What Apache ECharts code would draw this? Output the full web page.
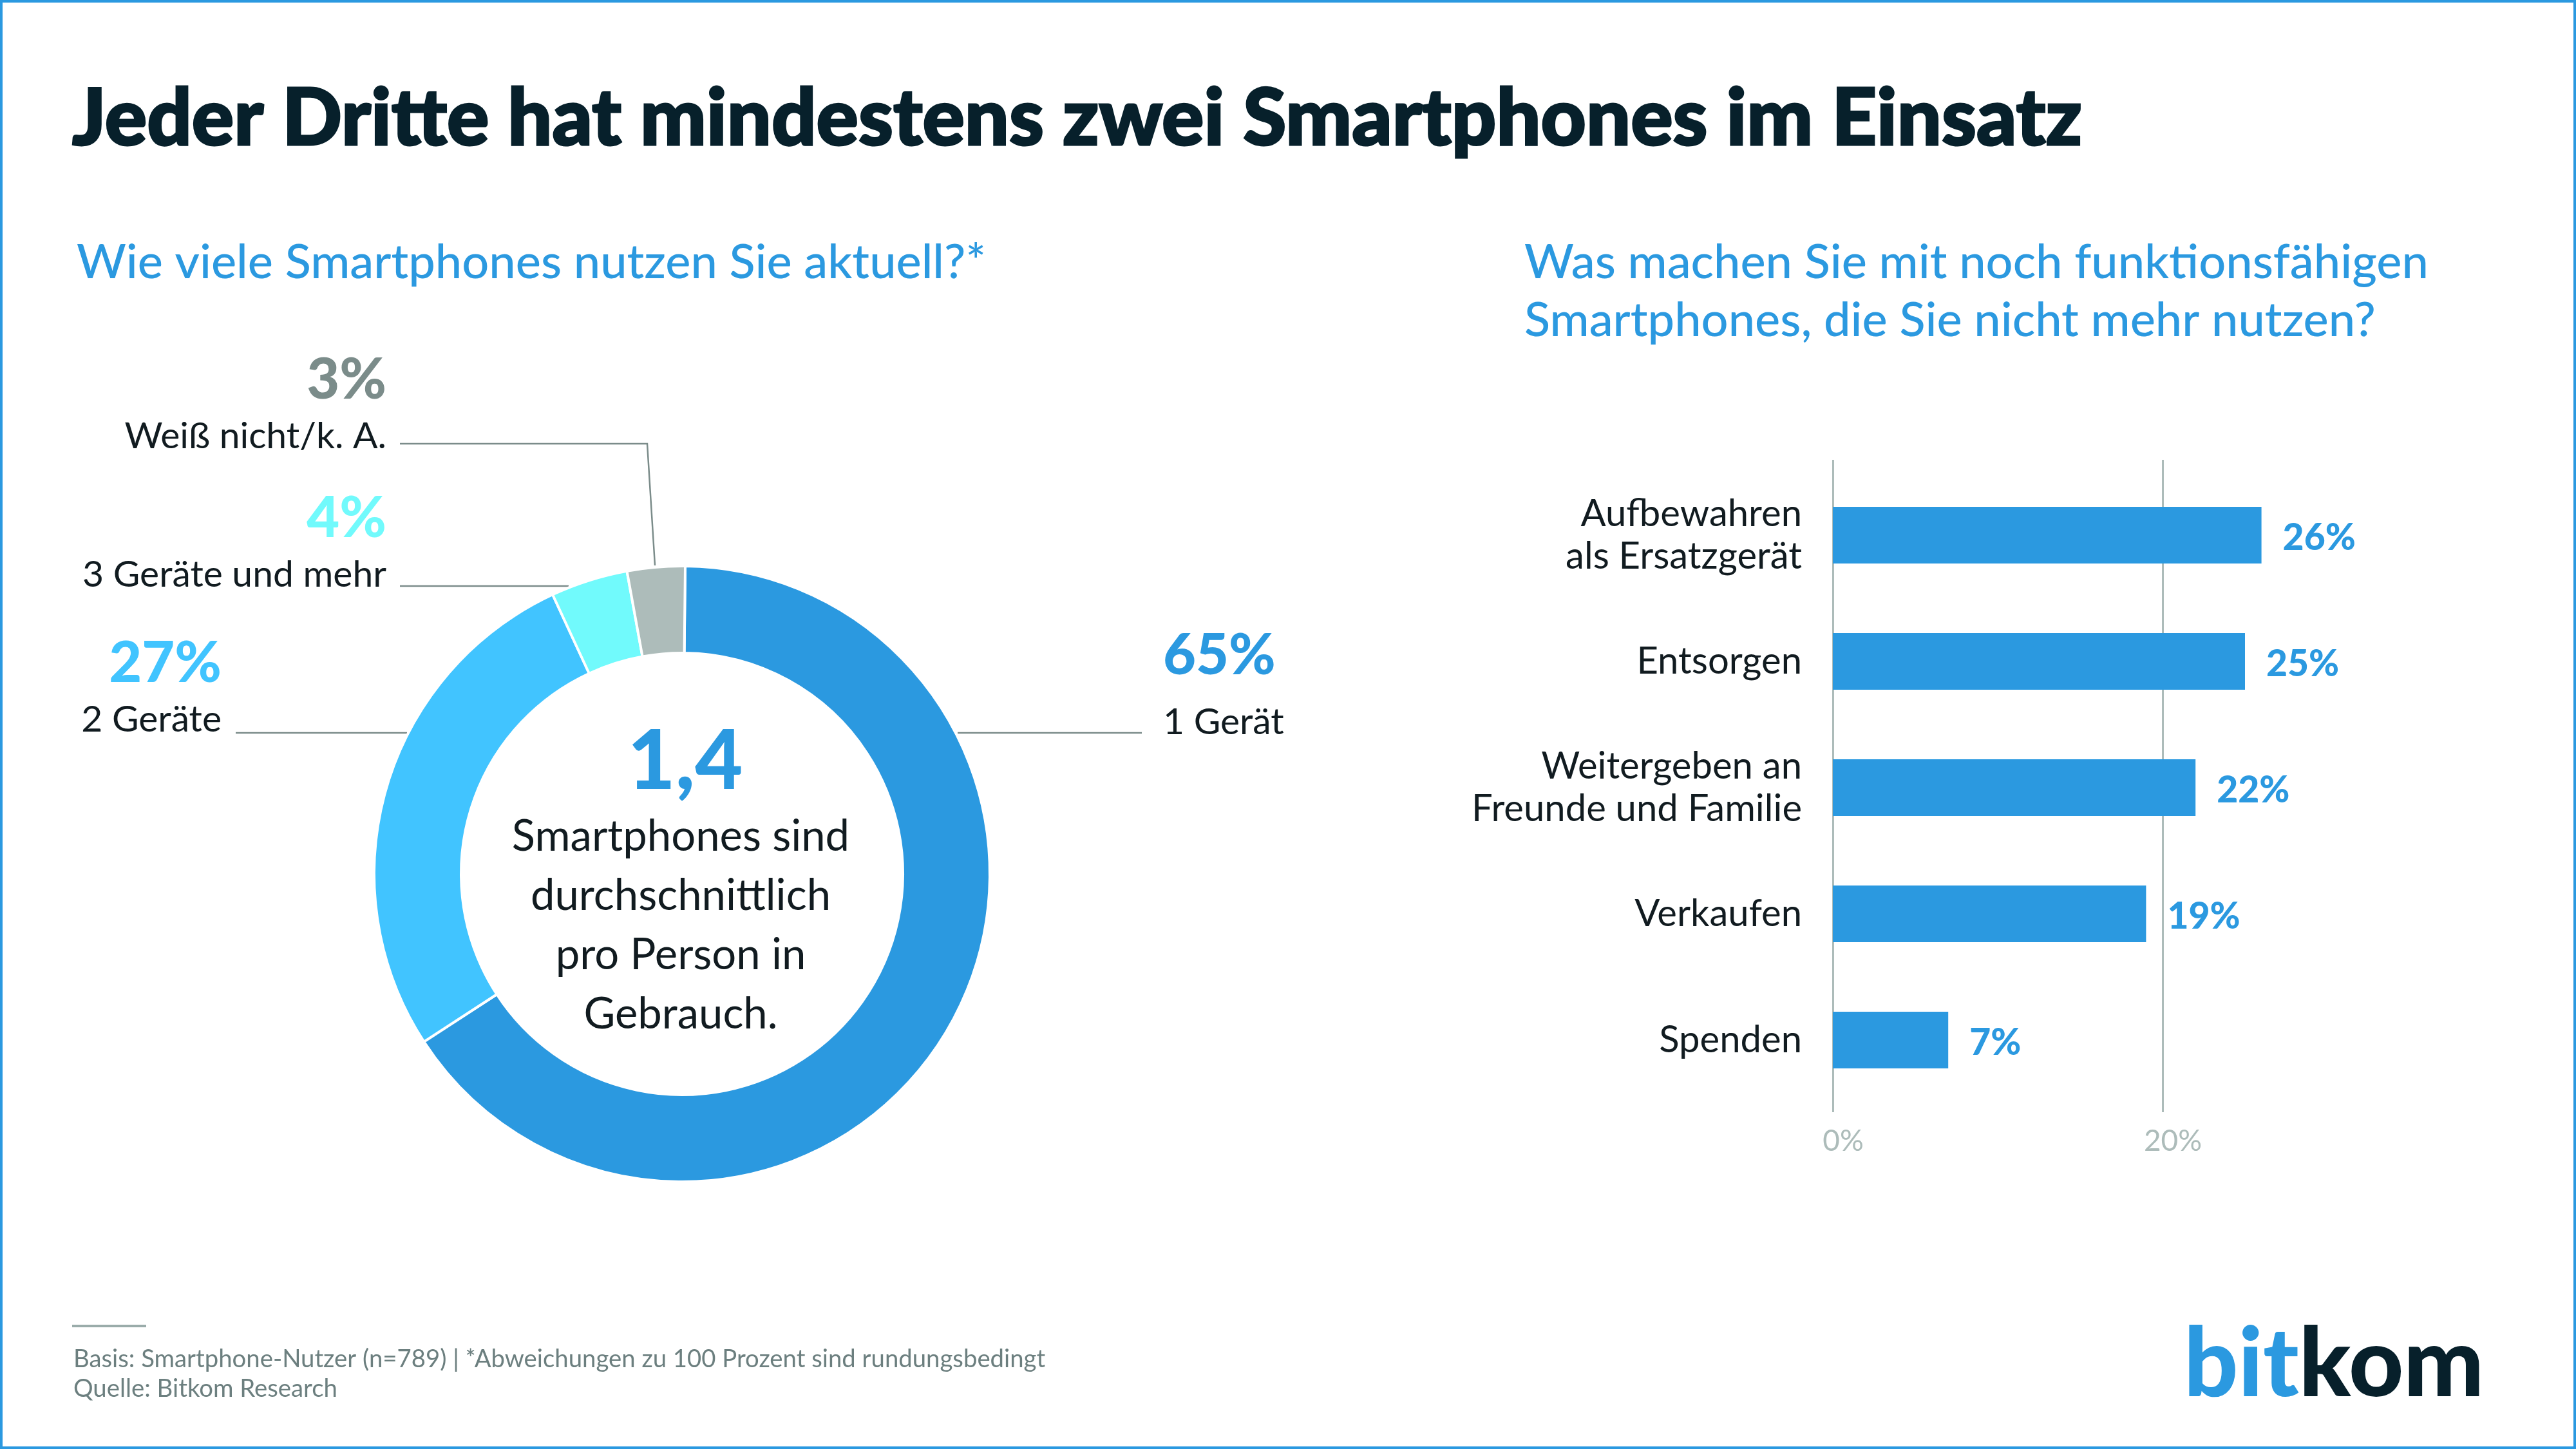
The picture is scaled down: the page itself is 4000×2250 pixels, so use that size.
<!DOCTYPE html>
<html>
<head>
<meta charset="utf-8">
<style>html,body{margin:0;padding:0;background:#fff}#chart{width:4000px;height:2250px}</style>
<script src="https://cdn.jsdelivr.net/npm/echarts@6/dist/echarts.min.js"></script>
</head>
<body>
<div id="chart"></div>
<script>
// donut data
const pieNames = ['1 Gerät', '2 Geräte', '3 Geräte und mehr', 'Weiß nicht/k. A.'];
const pieValues = [65, 27, 4, 3];
const pieColors = ['#2b99e0', '#41c4ff', '#71fafc', '#adbcba'];
const pieLabelColors = ['#2b99e0', '#41c4ff', '#71fafc', '#7b8c8a'];
// bar data
const barNames = ['Aufbewahren\nals Ersatzgerät', 'Entsorgen', 'Weitergeben an\nFreunde und Familie', 'Verkaufen', 'Spenden'];
const barValues = [26, 25, 22, 19, 7];
// texts
const titleText = 'Jeder Dritte hat mindestens zwei Smartphones im Einsatz';
const leftHead = 'Wie viele Smartphones nutzen Sie aktuell?*';
const rightHead = 'Was machen Sie mit noch funktionsfähigen\nSmartphones, die Sie nicht mehr nutzen?';
const centerValue = '1,4';
const centerText = 'Smartphones sind\ndurchschnittlich\npro Person in\nGebrauch.';
const noteText = 'Basis: Smartphone-Nutzer (n=789) | *Abweichungen zu 100 Prozent sind rundungsbedingt\nQuelle: Bitkom Research';

const font = 'Lato';
const blue = '#2b99e0';
const grey = '#adbcba';

// where each donut label sits and how its leader runs
const labelSpots = [
    {x: 1806, y: 949, gap: 140, align: 'left', line: [[1487, 1138], [1773, 1138]]},
    {x: 344, y: 977, gap: 108, align: 'right', line: [[632, 1138], [366, 1138]]},
    {x: 600, y: 752, gap: 108, align: 'right', line: [[883, 910], [621, 910]]},
    {x: 600, y: 537, gap: 108, align: 'right', line: [[1017, 878], [1005, 689], [621, 689]]}
];

var myChart = echarts.init(document.getElementById('chart'));

var option = {
    backgroundColor: '#fff',
    animation: false,
    textStyle: {fontFamily: font},
    grid: [
        // grid 0 only carries the gridlines, they run past the bars
        {left: 2846, top: 714, width: 1024, height: 1013},
        {left: 2846, top: 733, width: 1024, height: 980}
    ],
    xAxis: [
        {
            gridIndex: 0, type: 'value', min: 0, max: 40, interval: 20,
            axisLine: {show: false},
            axisTick: {show: false},
            axisLabel: {
                formatter: '{value}%', color: grey, fontSize: 46, fontFamily: font,
                margin: 22, showMaxLabel: false, padding: [0, 0, 0, 32]
            },
            splitLine: {show: true, showMaxLine: false, lineStyle: {color: grey, width: 3}}
        },
        {gridIndex: 1, type: 'value', min: 0, max: 40, show: false}
    ],
    yAxis: [
        {gridIndex: 0, type: 'value', show: false},
        {
            gridIndex: 1, type: 'category', inverse: true, data: barNames,
            axisLine: {show: false},
            axisTick: {show: false},
            axisLabel: {color: '#111b20', fontSize: 58, fontFamily: font, margin: 48, lineHeight: 66, align: 'right'}
        }
    ],
    series: [
        {
            type: 'bar',
            xAxisIndex: 1,
            yAxisIndex: 1,
            barWidth: 88,
            data: barValues,
            itemStyle: {color: blue},
            label: {
                show: true, position: 'right', distance: 33, formatter: '{c}%',
                color: blue, fontSize: 57, fontWeight: 900, fontFamily: font, offset: [0, 5]
            }
        },
        {
            type: 'pie',
            center: [1059, 1357],
            radius: [343, 478],
            startAngle: 89.4,
            clockwise: true,
            data: pieNames.map((n, i) => ({
                name: n,
                value: pieValues[i],
                itemStyle: {color: pieColors[i]},
                label: {rich: {
                    p: {color: pieLabelColors[i], fontSize: 88, fontWeight: 900, fontFamily: font, lineHeight: labelSpots[i].gap, align: labelSpots[i].align},
                    n: {color: '#111b20', fontSize: 57, fontFamily: font, lineHeight: 66, align: labelSpots[i].align}
                }}
            })),
            itemStyle: {borderColor: '#fff', borderWidth: 4},
            label: {show: true, formatter: p => '{p|' + p.value + '%}\n{n|' + p.name + '}'},
            labelLine: {show: true, lineStyle: {color: '#7b8c8a', width: 2.5}},
            labelLayout: p => {
                const s = labelSpots[p.dataIndex];
                return {x: s.x, y: s.y, align: s.align, verticalAlign: 'top', labelLinePoints: s.line};
            }
        }
    ],
    graphic: [
        {type: 'rect', shape: {x: 2, y: 2, width: 3996, height: 2246}, style: {fill: 'none', stroke: blue, lineWidth: 4}},
        {type: 'text', style: {text: titleText, x: 112, y: 186, fill: '#07202b', stroke: '#07202b', lineWidth: 3, font: '900 122px ' + font, textVerticalAlign: 'middle'}},
        {type: 'text', style: {text: leftHead, x: 119, y: 408, fill: blue, font: '500 74px ' + font, textVerticalAlign: 'middle'}},
        {type: 'text', style: {text: rightHead, x: 2367, y: 453, fill: blue, font: '500 74px ' + font, lineHeight: 90, textVerticalAlign: 'middle'}},
        {type: 'text', style: {text: centerValue, x: 1064, y: 1184, fill: blue, font: '900 128px ' + font, textAlign: 'center', textVerticalAlign: 'middle'}},
        {type: 'text', style: {text: centerText, x: 1057, y: 1437, fill: '#111b20', font: '67px ' + font, lineHeight: 92, textAlign: 'center', textVerticalAlign: 'middle'}},
        {type: 'rect', shape: {x: 112, y: 2057, width: 115, height: 4}, style: {fill: '#9aacaa'}},
        {type: 'text', style: {text: noteText, x: 114, y: 2134, fill: '#6c7f7f', font: '38.3px ' + font, lineHeight: 46, textVerticalAlign: 'middle'}},
        {type: 'text', style: {
            x: 3391, y: 2120, textVerticalAlign: 'middle',
            text: '{a|bit}{b|kom}',
            rich: {a: {fill: blue, font: '900 148px ' + font}, b: {fill: '#07202b', font: '900 148px ' + font}}
        }}
    ]
};

myChart.setOption(option);
</script>
</body>
</html>
